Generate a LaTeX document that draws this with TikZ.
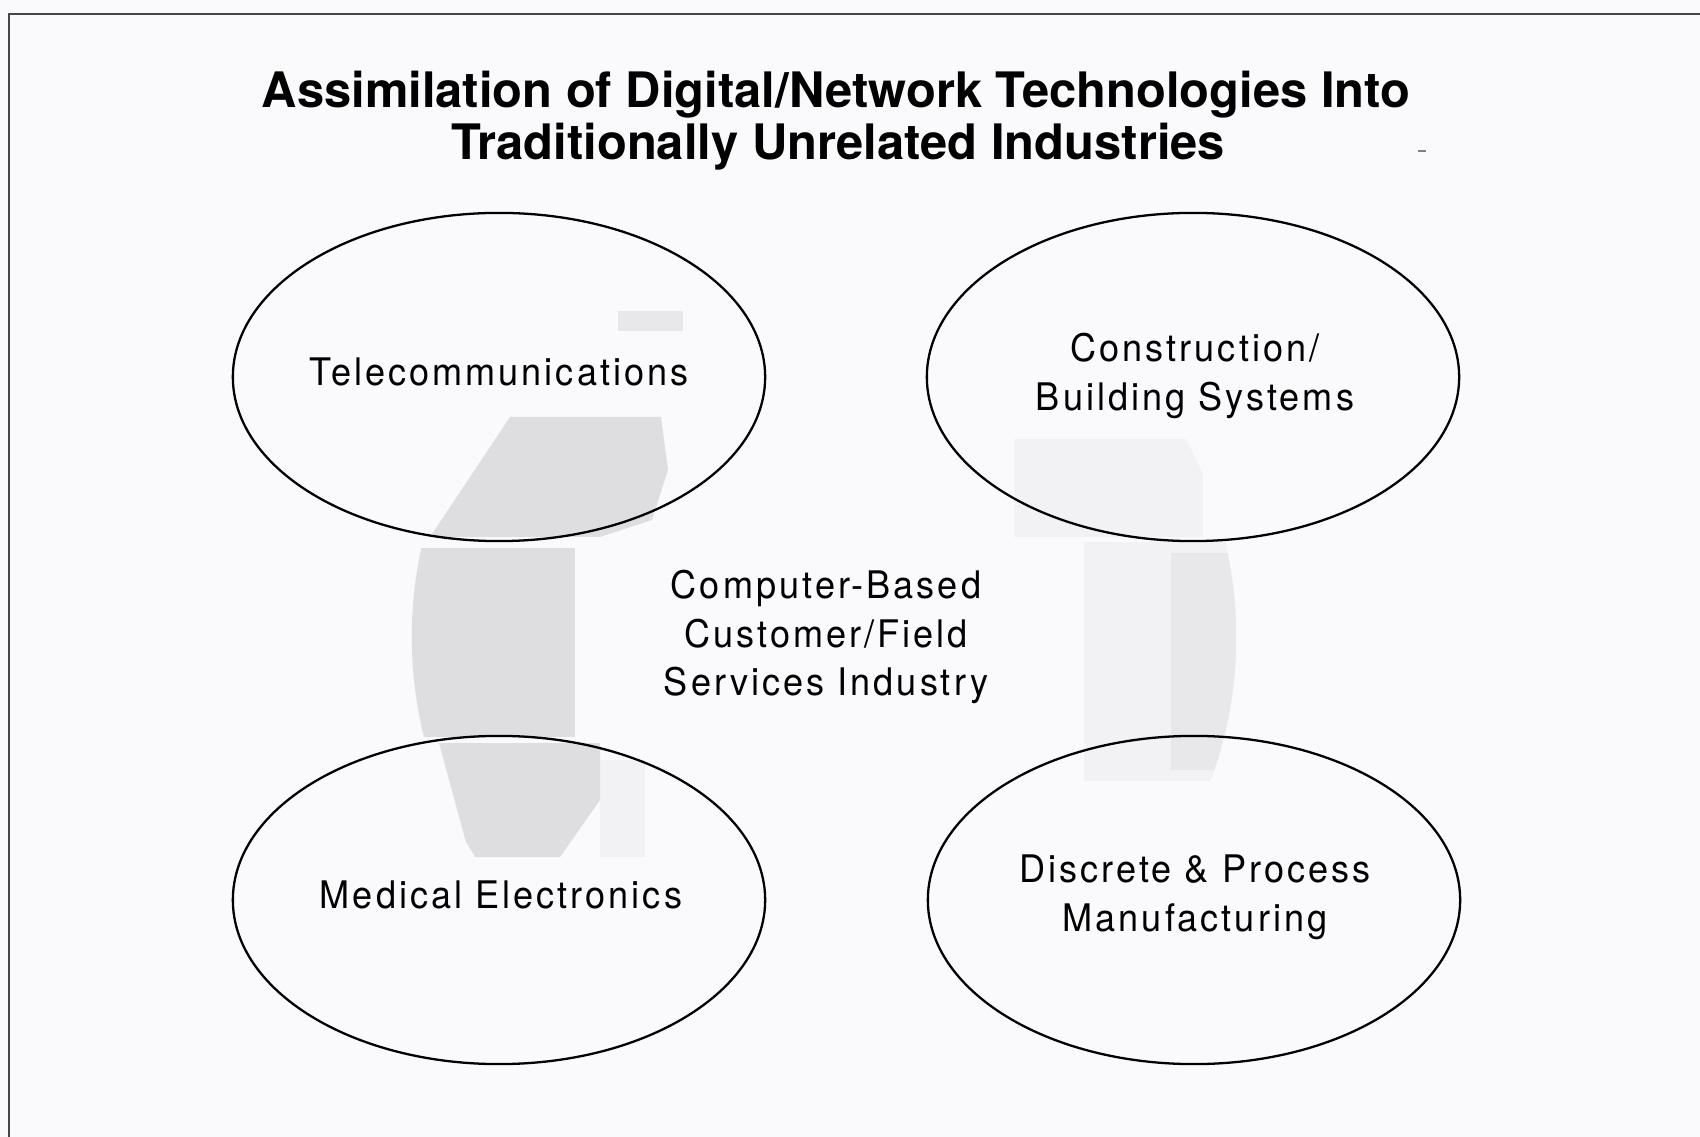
\documentclass[tikz,border=0pt]{standalone}
\usepackage{fontspec}
\setmainfont{TeX Gyre Heros}
\newfontfamily\bodyfont[LetterSpace=8,FakeStretch=0.95]{TeX Gyre Heros}
\usetikzlibrary{shapes.geometric}
\definecolor{paper}{RGB}{250,249,252}
\definecolor{frameline}{RGB}{70,70,72}
\definecolor{dotdark}{RGB}{222,222,224}
\definecolor{dotmid}{RGB}{232,232,234}
\definecolor{dotlight}{RGB}{242,241,244}
\tikzset{
  industry/.style={draw, ellipse, line width=0.65pt, minimum width=5.32cm, minimum height=3.28cm, inner sep=0pt},
  industrytext/.style={align=center, inner sep=0pt, font=\bodyfont\fontsize{10.8pt}{13.9pt}\selectfont},
  titletext/.style={anchor=base, font=\bfseries\fontsize{13.9pt}{14pt}\selectfont}
}
\begin{document}
\begin{tikzpicture}[x=0.01cm, y=-0.01cm]
	\useasboundingbox (0,0) rectangle (1700,1137);
	\fill[paper] (0,0) rectangle (1700,1137);
	\draw[frameline, line width=0.6pt] (9,1137) -- (9,14) -- (1700,14);
	\draw[gray, line width=0.5pt] (1418,151) -- (1426,151);

	\begin{scope}
		\clip (824,637) circle (4.12cm);
		\fill[dotlight] (1014,439) rectangle (1203,537);
		\fill[dotlight] (1084,542) rectangle (1236,781);
		\fill[dotmid] (1171,553) rectangle (1236,770);
		\fill[dotlight] (600,760) rectangle (645,857);
		\fill[dotdark] (510,417) -- (661,417) -- (668,470) -- (652,520) -- (600,537) -- (430,537) -- cycle;
		\fill[dotdark] (400,548) rectangle (575,737);
		\fill[dotdark] (439,743) -- (600,743) -- (600,800) -- (560,857) -- (470,857) -- cycle;
		\fill[dotmid] (618,311) rectangle (683,331);
	\end{scope}

	\node[titletext] (title1) at (836,108) {Assimilation of Digital/Network Technologies Into};
	\node[titletext] (title2) at (838,160) {Traditionally Unrelated Industries};

	\begin{scope}[every node/.style={industry}]
		\node (telecom) at (499,377) {};
		\node (building) at (1193,377) {};
		\node (medical) at (499,900) {};
		\node (manufact) at (1194,900) {};
	\end{scope}

	\begin{scope}[every node/.style={industrytext}]
		\node (telecomtext) at (499,372) {Telecommunications};
		\node (buildingtext) at (1195,376) {Construction/\\Building Systems};
		\node (medicaltext) at (501,895) {Medical Electronics};
		\node (manufacttext) at (1195,897) {Discrete \& Process\\Manufacturing};
		\node (services) at (826,637) {Computer-Based\\Customer/Field\\Services Industry};
	\end{scope}
\end{tikzpicture}
\end{document}
